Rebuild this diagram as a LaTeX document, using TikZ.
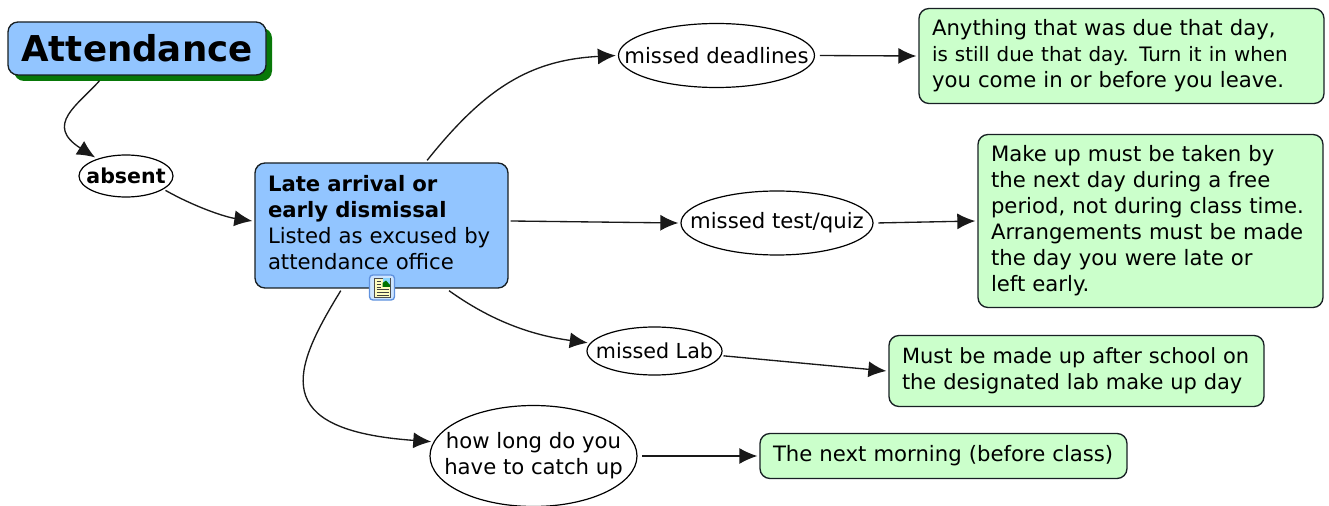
\documentclass[tikz,border=0pt]{standalone}
\usepackage{fontspec}
\setmainfont{DejaVu Sans}
\usetikzlibrary{arrows.meta,shapes.geometric}
\definecolor{topicblue}{RGB}{146,197,255}
\definecolor{notegreen}{RGB}{203,255,203}
\definecolor{edgedark}{RGB}{24,32,36}
\definecolor{shadowgreen}{RGB}{8,120,8}
\definecolor{iconblue}{RGB}{96,146,222}
\newcommand{\ovaltext}[1]{\makebox[0pt]{#1}}
\tikzset{
  boxbase/.style={draw=edgedark,line width=1pt,rounded corners=7.5pt,outer sep=2pt,align=left,text=black,font=\fontsize{15.9}{19.5}\selectfont,inner ysep=0pt,inner xsep=9.75pt},
  topicbox/.style={boxbase,fill=topicblue},
  notebox/.style={boxbase,fill=notegreen},
  oval/.style={ellipse,draw=black,line width=0.9pt,fill=white,inner sep=0pt,outer sep=2pt,align=center,text=black,font=\fontsize{15.9}{19.5}\selectfont},
  link/.style={draw=black!90,line width=1pt,-{Latex[length=13.5pt,width=12pt]}},
}
\begin{document}
\begin{tikzpicture}[x=0.75pt,y=0.75pt,yscale=-1,xscale=1]
\useasboundingbox (0,0) rectangle (1329,506);

%Shape: Shadow
\fill [shadowgreen, rounded corners=7.5pt] (14,28) rectangle (272,81);
% Text Node
\node [topicbox, minimum width=193.5pt, minimum height=39.75pt, font=\fontsize{26.7}{32}\bfseries\selectfont, inner xsep=0pt] (attendance) at (137,48.5) {Attendance};
\node [oval, minimum width=70.5pt, minimum height=31.5pt, font=\fontsize{15.4}{19.5}\bfseries\selectfont] (absent) at (126,176) {\ovaltext{absent}};
\node [topicbox, text width=170.25pt, minimum height=93.75pt] (late) at (381.5,225.5) {\textbf{Late arrival or}\\\textbf{early dismissal}\\Listed as excused by\\attendance office\\[-15pt]\mbox{}};
\node [oval, minimum width=147pt, minimum height=48pt] (deadlines) at (716.5,55.5) {\ovaltext{missed deadlines}};
\node [oval, minimum width=144pt, minimum height=48pt] (test) at (777,223) {\ovaltext{missed test/quiz}};
\node [oval, minimum width=101.25pt, minimum height=36pt, font=\fontsize{15.5}{19.5}\selectfont] (lab) at (654.5,351) {\ovaltext{missed Lab}};
\node [oval, minimum width=155.25pt, minimum height=75.75pt] (catchup) at (533.5,456) {\ovaltext{how long do you}\\\ovaltext{have to catch up}};
\node [notebox, text width=284.25pt, minimum height=71.25pt] (duenote) at (1121.5,56) {Anything that was due that day,\\{\fontsize{14.9}{19.5}\selectfont is still due that day. Turn it in when}\\you come in or before you leave.};
\node [notebox, text width=239.25pt, minimum height=129.75pt] (makeupnote) at (1150.5,221) {Make up must be taken by\\the next day during a free\\period, not during class time.\\Arrangements must be made\\the day you were late or\\left early.};
\node [notebox, text width=261.75pt, minimum height=53.25pt, font=\fontsize{15.7}{19.5}\selectfont] (labnote) at (1076.5,371) {Must be made up after school on\\the designated lab make up day};
\node [notebox, text width=255.75pt, minimum height=33.75pt] (morningnote) at (943.5,456) {The next morning (before class)};

%Shape: Note icon
\node [draw=iconblue, fill=topicblue!45, line width=1pt, rounded corners=2.5pt, minimum width=18.75pt, minimum height=18.75pt, inner sep=0pt] (icon) at (382,287.5) {};
\fill [yellow!25, draw=black!70, line width=0.5pt] (374.5,278) rectangle (390.5,297);
\fill [blue!35!cyan!45] (382.5,278.5) rectangle (390,287);
\fill [green!45!black] (382.5,283) -- (386,280.5) -- (390,285) -- (390,287) -- (382.5,287) -- cycle;
\foreach \rowy in {289,292,295} \draw [black!75, line width=0.7pt] (376.5,\rowy) -- (389,\rowy);
\foreach \rowy in {281,284,287} \draw [black!75, line width=0.7pt] (376.5,\rowy) -- (380.5,\rowy);

%Curved Lines
\draw [link, shorten <=3pt] (attendance.220) .. controls (78,105) and (44,125) .. (absent.149);
\draw [link] (absent.340) .. controls (195,207) and (225,217) .. (late.178);
\draw [link] (late.55) .. controls (485,88) and (530,60) .. (deadlines.west);
\draw [link] (late.316) .. controls (490,320) and (530,335) .. (lab.173);
\draw [link] (late.238) .. controls (292,370) and (268,430) .. (catchup.172);

%Straight Lines
\draw [link] (late.2) -- (test.west);
\draw [link, shorten <=2pt] (deadlines.east) -- (duenote.west);
\draw [link, shorten <=2pt] (test.east) -- (makeupnote.west);
\draw [link] (lab.356) -- (labnote.west);
\draw [link, shorten <=2pt] (catchup.east) -- (morningnote.west);

\end{tikzpicture}
\end{document}
